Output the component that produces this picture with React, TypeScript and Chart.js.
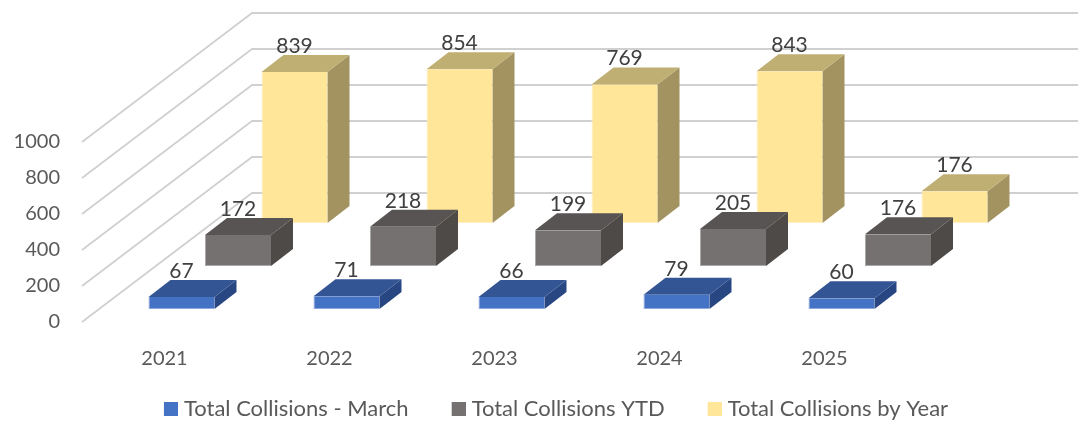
import React, { useEffect, useRef } from "react";
import { Chart, registerables } from "chart.js";

Chart.register(...registerables);

const categories = ["2021", "2022", "2023", "2024", "2025"];
const seriesNames = ["Total Collisions - March", "Total Collisions YTD", "Total Collisions by Year"];
const marchValues = [67, 71, 66, 79, 60];
const ytdValues = [172, 218, 199, 205, 176];
const yearValues = [839, 854, 769, 843, 176];

const frontColors = ["#4472C4", "#767171", "#FFE699"];
const edgeColors = ["#8FA9DC", "#ABA8A8", "#FFF0C4"];
const topColors = ["#335593", "#585453", "#BFAF73"];
const sideColors = ["#274682", "#4E4A48", "#A39361"];

const FONT = "Lato, Carlito, sans-serif";
const TEXT = "#595959";
const LABEL = "#404040";
const GRID = "#D0D0D0";

// Oblique projection settings
const SERIES_SHIFT = [
  { dx: 17, dy: -13 },
  { dx: 73.5, dy: -56 },
  { dx: 130, dy: -99 },
];
const BAR_DEPTH = { dx: 22, dy: -17 };
const WALL = { dx: 170, dy: -129 };
const GRID_RIGHT = 1078;
const LEGEND_TOP = 355;
const LEGEND_LEFT = 0;
const LEGEND_RIGHT = 1112;

const poly = (ctx: CanvasRenderingContext2D, pts: number[][], fill: string) => {
  ctx.beginPath();
  pts.forEach((p, i) => (i ? ctx.lineTo(p[0], p[1]) : ctx.moveTo(p[0], p[1])));
  ctx.closePath();
  ctx.fillStyle = fill;
  ctx.fill();
};

// Legend swatch: the square sits at the right of a transparent strip so the text gap stays narrow.
const makeSwatch = (color: string) => {
  const c = document.createElement("canvas");
  c.width = 19;
  c.height = 14;
  const g = c.getContext("2d")!;
  g.fillStyle = color;
  g.fillRect(5, 0, 14, 14);
  return c;
};

const depthPlugin = {
  id: "depth",
  afterLayout(chart: any) {
    chart.legend.top = LEGEND_TOP;
    chart.legend.left = LEGEND_LEFT;
    chart.legend.right = LEGEND_RIGHT;
  },
  beforeDatasetsDraw(chart: any) {
    const { ctx, scales } = chart;
    const left = scales.x.left;
    ctx.save();
    ctx.strokeStyle = GRID;
    ctx.lineWidth = 1.8;
    ctx.lineJoin = "round";
    scales.y.ticks.forEach((t: any) => {
      const y = scales.y.getPixelForValue(t.value);
      ctx.beginPath();
      ctx.moveTo(left, y);
      ctx.lineTo(left + WALL.dx, y + WALL.dy);
      ctx.lineTo(GRID_RIGHT, y + WALL.dy);
      ctx.stroke();
    });
    ctx.restore();
  },
  beforeDatasetDraw(chart: any, args: any) {
    const { ctx } = chart;
    const s = SERIES_SHIFT[args.index];
    ctx.save();
    ctx.translate(s.dx, s.dy);
    args.meta.data.forEach((bar: any) => {
      const l = bar.x - bar.width / 2;
      const r = bar.x + bar.width / 2;
      const d = BAR_DEPTH;
      poly(ctx, [[r, bar.y], [r + d.dx, bar.y + d.dy], [r + d.dx, bar.base + d.dy], [r, bar.base]], sideColors[args.index]);
      poly(ctx, [[l, bar.y], [l + d.dx, bar.y + d.dy], [r + d.dx, bar.y + d.dy], [r, bar.y]], topColors[args.index]);
    });
  },
  afterDatasetDraw(chart: any) {
    chart.ctx.restore();
  },
  afterDatasetsDraw(chart: any) {
    const { ctx } = chart;
    ctx.save();
    ctx.font = `21px ${FONT}`;
    ctx.fillStyle = LABEL;
    ctx.textAlign = "center";
    ctx.textBaseline = "middle";
    chart.data.datasets.forEach((ds: any, i: number) => {
      const s = SERIES_SHIFT[i];
      chart.getDatasetMeta(i).data.forEach((bar: any, j: number) => {
        ctx.fillText(String(ds.data[j]), bar.x + s.dx, bar.y + s.dy - 26);
      });
    });
    ctx.restore();
  },
};

export default function App() {
  const ref = useRef<HTMLCanvasElement>(null);
  useEffect(() => {
    const swatches = frontColors.map(makeSwatch);
    const chart = new Chart(ref.current!, {
      type: "bar",
      data: {
        labels: categories,
        datasets: [marchValues, ytdValues, yearValues].map((data, i) => ({
          label: seriesNames[i],
          data,
          backgroundColor: frontColors[i],
          borderColor: edgeColors[i],
          borderWidth: { left: 1, bottom: 1, right: 0, top: 0 },
          borderSkipped: false,
          clip: false as any,
          grouped: false,
          barPercentage: 0.4,
          categoryPercentage: 1,
        })),
      },
      options: {
        responsive: false,
        animation: false,
        layout: { padding: { top: 142, right: 172, left: 0, bottom: 0 } },
        plugins: {
          tooltip: { enabled: false },
          legend: {
            position: "bottom",
            maxHeight: 56,
            labels: {
              usePointStyle: true,
              pointStyleWidth: 9,
              boxHeight: 14,
              padding: 43,
              color: TEXT,
              font: { family: FONT, size: 22 },
              generateLabels: (c: any) =>
                Chart.defaults.plugins.legend.labels
                  .generateLabels(c)
                  .map((item: any, i: number) => ({ ...item, pointStyle: swatches[i] })),
            },
          },
        },
        scales: {
          x: {
            grid: { display: false },
            border: { display: false },
            ticks: { color: TEXT, padding: 17, font: { family: FONT, size: 20 }, maxRotation: 0 },
            afterFit: (s: any) => {
              s.height = 44;
            },
          },
          y: {
            min: 0,
            max: 1000,
            grid: { display: false, drawTicks: false },
            border: { display: false },
            ticks: { stepSize: 200, color: TEXT, padding: 22, font: { family: FONT, size: 20 }, callback: (v: any) => String(v) },
            afterFit: (s: any) => {
              s.width = 82;
            },
          },
        },
      },
      plugins: [depthPlugin],
    } as any);
    return () => chart.destroy();
  }, []);
  return (
    <div style={{ position: "absolute", left: 0, top: 0, width: 1079, height: 422, background: "#fff" }}>
      <canvas ref={ref} width={1079} height={422} style={{ display: "block" }} />
    </div>
  );
}
